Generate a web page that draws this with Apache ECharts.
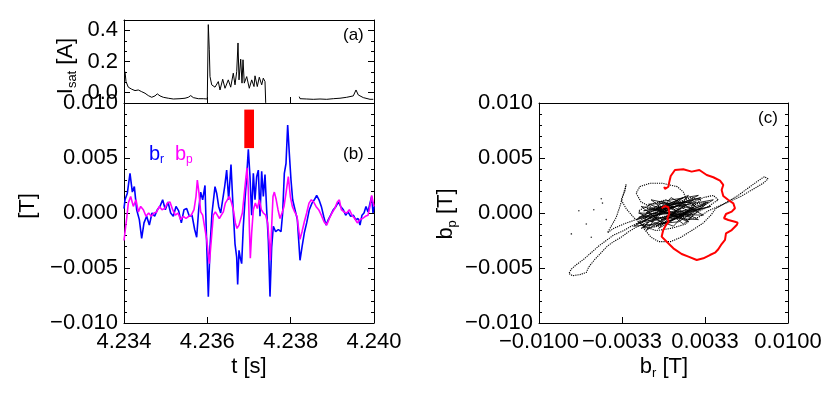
<!DOCTYPE html>
<html>
<head>
<meta charset="utf-8">
<script src="https://cdn.jsdelivr.net/npm/echarts@6/dist/echarts.min.js"></script>
<style>
  html, body { margin: 0; padding: 0; background: #fff; }
  #chart { width: 830px; height: 415px; }
</style>
</head>
<body>
<div id="chart"></div>
<script>
// panel (a): ion saturation current, gap where the probe was off
const isatT = [4.234024, 4.234048, 4.234103, 4.234185, 4.234264, 4.234343, 4.234425, 4.234504, 4.234583, 4.234665,
  4.234744, 4.234799, 4.234864, 4.234943, 4.235063, 4.235183, 4.235344, 4.235464, 4.235543, 4.235601,
  4.235663, 4.235783, 4.235903, 4.235999, 4.236023, 4.236047, 4.236064, 4.236105, 4.236184, 4.236263,
  4.236304, 4.236369, 4.236424, 4.236503, 4.236561, 4.236623, 4.236664, 4.236705, 4.236736, 4.23676,
  4.236801, 4.236832, 4.236856, 4.236887, 4.236945, 4.237007, 4.237065, 4.23712, 4.237144, 4.237199,
  4.237247, 4.237305, 4.237343, 4.237384, 4.237401, 4.2378,
  4.238207, 4.238224, 4.238385, 4.238543, 4.238704, 4.238865, 4.239023, 4.239184, 4.239345, 4.239503,
  4.239568, 4.239623, 4.239743, 4.239904, 4.239983];
const isatV = [0.135, 0.071, 0.035, 0.022, 0.013, 0.017, 0.006, -0.004, -0.019, -0.030,
  -0.021, -0.008, -0.021, -0.030, -0.036, -0.041, -0.039, -0.036, -0.030, -0.019,
  -0.032, -0.039, -0.039, -0.041, 0.437, 0.275, 0.103, 0.050, 0.035, 0.071,
  0.017, 0.086, 0.028, 0.082, 0.035, 0.125, 0.050, 0.135, 0.319, 0.082,
  0.215, 0.061, 0.211, 0.061, 0.103, 0.028, 0.082, 0.039, 0.108, 0.039,
  0.099, 0.050, 0.093, 0.071, -0.066, null,
  -0.026, -0.039, -0.041, -0.043, -0.041, -0.043, -0.039, -0.036, -0.030, -0.021,
  0.017, -0.015, -0.032, -0.043, -0.043];

// panel (b): b_r and b_p
const brT = [4.234, 4.234024, 4.23408, 4.234144, 4.2342, 4.234248, 4.234304, 4.234368, 4.234424, 4.23448,
  4.234544, 4.234608, 4.234672, 4.234736, 4.2348, 4.234864, 4.234928, 4.234992, 4.235056, 4.23512,
  4.235184, 4.235248, 4.235312, 4.235376, 4.23544, 4.235504, 4.235568, 4.235632, 4.235696, 4.235744,
  4.235792, 4.23584, 4.235888, 4.235944, 4.235984, 4.236024, 4.236064, 4.236112, 4.236184, 4.236224,
  4.236272, 4.23632, 4.236368, 4.236416, 4.236464, 4.236512, 4.236568, 4.236616, 4.236664, 4.236704,
  4.236728, 4.23676, 4.236792, 4.236824, 4.236864, 4.236904, 4.236944, 4.236984, 4.237024, 4.237064,
  4.237104, 4.237144, 4.237184, 4.237224, 4.237264, 4.237304, 4.237344, 4.237384, 4.237424, 4.237464,
  4.237504, 4.237544, 4.237584, 4.23764, 4.237704, 4.237768, 4.237808, 4.237848, 4.237888, 4.237928,
  4.237968, 4.238008, 4.238048, 4.238104, 4.23816, 4.238224, 4.238272, 4.238328, 4.238384, 4.238448,
  4.238512, 4.238568, 4.238624, 4.23868, 4.238736, 4.238792, 4.238848, 4.238904, 4.23896, 4.239024,
  4.239088, 4.239144, 4.2392, 4.239264, 4.23932, 4.239376, 4.23944, 4.239504, 4.23956, 4.239616,
  4.239664, 4.239712, 4.23976, 4.239808, 4.239856, 4.239904, 4.239944, 4.239976, 4.24];
const brV = [0.0004, 0.0012, 0.0018, 0.0036, 0.0019, 0.0024, 0.0003, -0.0006, -0.0023, -0.0009,
  -0.0003, -0.0011, 0.0000, -0.0003, 0.0003, 0.0006, 0.0012, 0.0003, 0.0010, 0.0000,
  -0.0003, 0.0006, 0.0002, -0.0009, 0.0003, 0.0004, -0.0003, -0.0002, -0.0015, -0.0022,
  0.0003, 0.0019, 0.0012, 0.0025, -0.0028, -0.0076, -0.0031, 0.0000, 0.0024, 0.0018,
  0.0006, 0.0000, 0.0012, 0.0024, 0.0039, 0.0012, 0.0044, 0.0006, -0.0028, -0.0040,
  -0.0065, -0.0034, -0.0041, -0.0046, -0.0012, 0.0012, 0.0033, 0.0058, 0.0033, -0.0002,
  0.0036, 0.0012, 0.0033, 0.0039, -0.0003, 0.0038, 0.0015, 0.0035, 0.0003, -0.0025,
  -0.0076, -0.0031, -0.0012, -0.0017, -0.0015, -0.0017, 0.0000, 0.0036, 0.0045, 0.0080,
  0.0054, 0.0030, 0.0012, 0.0003, -0.0006, -0.0043, -0.0031, -0.0018, -0.0009, 0.0003,
  0.0009, 0.0012, 0.0016, 0.0012, 0.0006, -0.0003, -0.0011, -0.0006, -0.0002, 0.0003,
  0.0006, 0.0010, 0.0006, 0.0003, -0.0002, 0.0001, -0.0003, -0.0002, -0.0006, -0.0005,
  -0.0011, -0.0002, 0.0000, 0.0006, 0.0001, 0.0009, 0.0015, 0.0000, 0.0006];

const bpT = [4.234, 4.234064, 4.234104, 4.23416, 4.234224, 4.234288, 4.234344, 4.2344, 4.234464, 4.234528,
  4.234592, 4.234656, 4.23472, 4.234784, 4.234848, 4.234912, 4.234976, 4.23504, 4.235104, 4.235168,
  4.235232, 4.235296, 4.23536, 4.235424, 4.235488, 4.235552, 4.235616, 4.23568, 4.235728, 4.23576,
  4.2358, 4.23584, 4.235888, 4.235936, 4.235984, 4.236048, 4.236096, 4.236144, 4.236192, 4.23624,
  4.236288, 4.236336, 4.236384, 4.236432, 4.23648, 4.236528, 4.236576, 4.236624, 4.236672, 4.236712,
  4.23676, 4.2368, 4.23684, 4.23688, 4.23692, 4.236952, 4.236984, 4.237008, 4.237032, 4.237064,
  4.237104, 4.237152, 4.2372, 4.237248, 4.237296, 4.237344, 4.2374, 4.237448, 4.237488, 4.237512,
  4.237544, 4.237576, 4.237608, 4.237648, 4.237696, 4.237744, 4.237792, 4.23784, 4.237888, 4.237944,
  4.237992, 4.23804, 4.238096, 4.238152, 4.238192, 4.238224, 4.238272, 4.238328, 4.238384, 4.23844,
  4.238496, 4.238552, 4.238608, 4.238672, 4.238736, 4.2388, 4.238864, 4.238928, 4.238992, 4.239056,
  4.23912, 4.239168, 4.239216, 4.23928, 4.239344, 4.239408, 4.239472, 4.239536, 4.2396, 4.239664,
  4.239728, 4.239792, 4.239856, 4.239904, 4.239944, 4.24];
const bpV = [-0.0025, -0.0005, 0.0009, 0.0015, 0.0006, 0.0012, 0.0001, 0.0006, 0.0003, -0.0003,
  0.0000, -0.0003, 0.0000, 0.0001, 0.0006, 0.0003, 0.0004, 0.0009, 0.0010, 0.0003,
  -0.0002, 0.0000, -0.0006, -0.0003, -0.0005, -0.0003, -0.0002, 0.0003, 0.0015, 0.0030,
  0.0018, 0.0001, -0.0002, -0.0003, -0.0024, -0.0046, -0.0024, -0.0002, 0.0001, -0.0002,
  -0.0005, -0.0002, 0.0001, 0.0009, 0.0012, 0.0015, 0.0010, 0.0003, -0.0009, -0.0014,
  -0.0011, -0.0012, 0.0000, 0.0015, 0.0030, 0.0041, 0.0021, -0.0012, -0.0041, -0.0018,
  0.0003, 0.0009, 0.0004, 0.0012, 0.0003, 0.0000, -0.0002, -0.0009, -0.0028, -0.0043,
  -0.0012, 0.0015, 0.0019, 0.0013, 0.0003, -0.0005, 0.0000, 0.0006, 0.0018, 0.0033,
  0.0015, 0.0006, 0.0001, -0.0003, -0.0015, -0.0024, -0.0017, -0.0008, 0.0000, 0.0009,
  0.0012, 0.0010, 0.0006, 0.0003, -0.0002, -0.0008, -0.0011, -0.0005, 0.0000, 0.0004,
  0.0010, 0.0012, 0.0003, 0.0001, 0.0000, 0.0003, -0.0002, -0.0005, -0.0009, -0.0006,
  -0.0005, -0.0003, -0.0002, 0.0006, 0.0016, 0.0006];

// red bar marks the time window of the red hodogram: [t0, t1, b0, b1]
const redBar = [4.236887, 4.23712, 0.0059, 0.0094];

// panel (c): hodogram b_r vs b_p
const hodoBlack = [
  [-0.0010,-0.0004],[-0.0018,-0.0008],[-0.0026,-0.0012],[-0.0032,-0.0016],[-0.0040,-0.0020],[-0.0046,-0.0025],
  [-0.0052,-0.0030],[-0.0058,-0.0036],[-0.0064,-0.0042],[-0.0070,-0.0047],[-0.0074,-0.0051],[-0.0076,-0.0055],
  [-0.0073,-0.0057],[-0.0067,-0.0056],[-0.0062,-0.0054],[-0.0060,-0.0049],[-0.0055,-0.0042],[-0.0050,-0.0036],
  [-0.0045,-0.0030],[-0.0040,-0.0026],[-0.0034,-0.0022],[-0.0028,-0.0017],[-0.0022,-0.0013],[-0.0016,-0.0010],
  [-0.0008,-0.0006],[0.0004,-0.0002],[0.0014,0.0004],[0.0026,0.0008],[0.0034,0.0010],[0.0028,0.0004],
  [0.0016,-0.0002],[0.0004,-0.0008],[-0.0008,-0.0012],[-0.0018,-0.0010],[-0.0012,-0.0002],[0.0000,0.0004],
  [0.0012,0.0010],[0.0022,0.0014],[0.0030,0.0012],[0.0020,0.0002],[0.0008,-0.0006],[-0.0004,-0.0010],
  [-0.0014,-0.0006],[-0.0020,0.0002],[-0.0010,0.0008],[0.0002,0.0012],[0.0014,0.0006],[0.0024,-0.0002],
  [0.0018,-0.0010],[0.0006,-0.0014],[-0.0006,-0.0016],[-0.0016,-0.0012],[-0.0024,-0.0004],
  [-0.0030,0.0004],[-0.0034,0.0012],[-0.0031,0.0020],[-0.0030,0.0026],[-0.0032,0.0018],[-0.0035,0.0006],
  [-0.0038,-0.0004],[-0.0042,-0.0012],[-0.0045,-0.0018],[-0.0040,-0.0014],[-0.0032,-0.0010],[-0.0022,-0.0006],
  [-0.0012,0.0000],[0.0000,0.0006],[0.0010,0.0002],[0.0020,0.0008],[0.0032,0.0014],[0.0040,0.0016],
  [0.0044,0.0012],[0.0036,0.0006],[0.0026,0.0000],[0.0014,-0.0004],[0.0002,0.0000],[-0.0008,0.0004],
  [-0.0018,0.0010],[-0.0022,0.0018],
  [-0.0019,0.0024],[-0.0011,0.0027],[-0.0001,0.0027],[0.0011,0.0024],[0.0016,0.0019],[0.0018,0.0013],
  [0.0010,0.0006],[0.0000,0.0002],[-0.0010,-0.0004],
  [-0.0016,-0.0014],[-0.0010,-0.0022],[-0.0004,-0.0026],[0.0006,-0.0026],[0.0014,-0.0022],[0.0024,-0.0015],
  [0.0032,-0.0009],[0.0038,-0.0002],[0.0042,0.0004],
  [0.0048,0.0008],[0.0054,0.0012],[0.0060,0.0016],[0.0066,0.0021],[0.0072,0.0026],[0.0077,0.0030],
  [0.0081,0.0033],[0.0084,0.0031],[0.0080,0.0027],[0.0074,0.0023],[0.0068,0.0019],[0.0062,0.0015],
  [0.0056,0.0012],[0.0050,0.0009],[0.0044,0.0006],
  [0.0036,0.0002],[0.0028,-0.0004],[0.0018,-0.0006],[0.0008,-0.0002],[-0.0002,0.0002],[-0.0012,-0.0002],
  [-0.0020,-0.0008],[-0.0014,-0.0014],[-0.0004,-0.0012],[0.0006,-0.0006],[0.0016,0.0000],[0.0026,0.0006],
  [0.0020,0.0010],[0.0008,0.0008],[-0.0004,0.0006],[-0.0014,0.0004]
];
// dense tangle around the origin
const hodoCore = [
  [-0.0022,-0.0010],[0.0010,0.0006],[-0.0016,0.0002],[0.0024,0.0012],[-0.0006,-0.0012],[0.0030,0.0004],
  [-0.0020,-0.0004],[0.0016,0.0014],[-0.0010,-0.0008],[0.0036,0.0010],[0.0000,-0.0010],[-0.0018,0.0006],
  [0.0022,-0.0004],[-0.0004,0.0010],[0.0028,0.0016],[-0.0024,-0.0012],[0.0012,-0.0008],[0.0040,0.0012],
  [-0.0008,0.0002],[0.0018,0.0008],[-0.0014,-0.0016],[0.0006,0.0014],[0.0032,-0.0002],[-0.0020,0.0000],
  [0.0008,-0.0012],[0.0026,0.0010],[-0.0012,0.0008],[0.0014,-0.0002],[-0.0002,-0.0006],[0.0038,0.0006],
  [-0.0016,-0.0008],[0.0004,0.0008],[0.0020,-0.0008],[-0.0006,0.0004],[0.0030,0.0014],[-0.0022,-0.0006],
  [0.0010,0.0002],[-0.0004,-0.0014],[0.0024,0.0004],[-0.0010,0.0012],[0.0016,-0.0010],[0.0034,0.0008],
  [-0.0018,-0.0014],[0.0002,0.0004],[0.0012,0.0012],[-0.0008,-0.0004],[0.0028,-0.0006],[0.0000,0.0010],
  [-0.0014,0.0000],[0.0020,0.0016],[0.0006,-0.0004]
];
const hodoStray = [[-0.0068,0.0002],[-0.0050,0.0013],[-0.0049,0.0009],[-0.0074,-0.0019],[-0.0062,-0.0010],
  [-0.0056,0.0003],[-0.0046,-0.0006],[-0.0058,-0.0022]];
const hodoRed = [
  [-0.00015,0.00043],[0.00012,0.00064],[0.00039,0.00052],[0.00047,-0.00003],[0.00031,-0.00048],[0.00042,-0.00079],
  [0.00020,-0.00109],[-0.00002,-0.00155],[-0.00015,-0.00215],[0.00026,-0.00261],[0.00079,-0.00321],[0.00146,-0.00373],
  [0.00200,-0.00397],[0.00267,-0.00427],[0.00320,-0.00412],[0.00373,-0.00382],[0.00414,-0.00361],[0.00440,-0.00330],
  [0.00467,-0.00282],[0.00494,-0.00245],[0.00502,-0.00185],[0.00548,-0.00155],[0.00588,-0.00109],[0.00596,-0.00088],
  [0.00574,-0.00079],[0.00521,-0.00064],[0.00486,-0.00048],[0.00502,-0.00009],[0.00548,0.00012],[0.00574,0.00043],
  [0.00561,0.00088],[0.00521,0.00118],[0.00480,0.00155],[0.00467,0.00209],[0.00480,0.00255],[0.00454,0.00294],
  [0.00400,0.00325],[0.00347,0.00345],[0.00288,0.00391],[0.00226,0.00376],[0.00159,0.00397],[0.00092,0.00391],
  [0.00058,0.00336],[0.00047,0.00285],[0.00039,0.00239],[0.00012,0.00218],[0.00006,0.00239]
];

const tTicks = [4.234, 4.236, 4.238, 4.240];
const isatTicks = [0, 0.2, 0.4];
const isatMinor = [0.2 / 3, 0.4 / 3, 0.8 / 3, 1.0 / 3];
const brTicks = [-0.01, -0.01 / 3, 0.01 / 3, 0.01];

const FONT = 'Liberation Sans';
const fmtSigned = (v, d) => (v < -1e-12 ? '\u2212' : '') + Math.abs(v).toFixed(d);

const zip = (xs, ys) => xs.map((x, i) => [x, ys[i]]);

const frameAxis = (grid, extra) => Object.assign({
  gridIndex: grid,
  type: 'value',
  axisLine: { show: true, onZero: false, lineStyle: { color: '#000', width: 1 } },
  axisTick: { show: true, inside: true, length: 6, lineStyle: { color: '#000' } },
  axisLabel: { show: false },
  splitLine: { show: false }
}, extra);

const noLine = { show: false, onZero: false };

const label = (fmt) => ({ show: true, color: '#000', fontFamily: FONT, fontSize: 22, margin: 6, formatter: fmt });

const chart = echarts.init(document.getElementById('chart'), null, { renderer: 'canvas' });

const option = {
  animation: false,
  backgroundColor: '#fff',
  grid: [
    { left: 124, top: 20, width: 250, height: 83, outerBoundsMode: 'none' },
    { left: 124, top: 103, width: 250, height: 220, outerBoundsMode: 'none' },
    { left: 539, top: 103, width: 249, height: 220, outerBoundsMode: 'none' }
  ],
  xAxis: [
    frameAxis(0, { min: 4.234, max: 4.240, position: 'bottom',
      axisTick: { show: true, inside: true, length: 6, customValues: [4.236, 4.238], lineStyle: { color: '#000' } } }),
    frameAxis(1, { min: 4.234, max: 4.240, position: 'bottom',
      axisTick: { show: true, inside: true, length: 6, customValues: [4.236, 4.238], lineStyle: { color: '#000' } },
      axisLabel: Object.assign(label(v => v.toFixed(3)), { customValues: tTicks, margin: 8 }) }),
    frameAxis(2, { min: -0.01, max: 0.01, position: 'bottom',
      axisTick: { show: true, inside: true, length: 6, customValues: [-0.01 / 3, 0.01 / 3], lineStyle: { color: '#000' } },
      axisLabel: Object.assign(label(v => fmtSigned(v, 4)), { customValues: brTicks, margin: 8 }) }),
    frameAxis(0, { min: 4.234, max: 4.240, position: 'top', axisTick: { show: false } }),
    frameAxis(2, { min: -0.01, max: 0.01, position: 'top', axisTick: { show: false } })
  ],
  yAxis: [
    // 0: panel a left
    frameAxis(0, { min: -0.2 / 3, max: 1.4 / 3, position: 'left',
      axisTick: { show: true, inside: true, length: 6, customValues: isatTicks, lineStyle: { color: '#000' } },
      axisLabel: Object.assign(label(v => v.toFixed(1)), { customValues: isatTicks }) }),
    // 1: panel b left
    frameAxis(1, { min: -0.01, max: 0.01, interval: 0.005, position: 'left',
      minorTick: { show: true, splitNumber: 5, length: 3, lineStyle: { color: '#000' } },
      axisLabel: label(v => fmtSigned(v, 3)) }),
    // 2: panel c left
    frameAxis(2, { min: -0.01, max: 0.01, interval: 0.005, position: 'left',
      minorTick: { show: true, splitNumber: 5, length: 3, lineStyle: { color: '#000' } },
      axisLabel: label(v => fmtSigned(v, 3)) }),
    // right-hand tick copies and minor ticks of panel a
    frameAxis(0, { min: -0.2 / 3, max: 1.4 / 3, position: 'right',
      axisTick: { show: true, inside: true, length: 6, customValues: isatTicks, lineStyle: { color: '#000' } } }),
    frameAxis(0, { min: -0.2 / 3, max: 1.4 / 3, position: 'left', axisLine: noLine,
      axisTick: { show: true, inside: true, length: 3, customValues: isatMinor, lineStyle: { color: '#000' } } }),
    frameAxis(0, { min: -0.2 / 3, max: 1.4 / 3, position: 'right', axisLine: noLine,
      axisTick: { show: true, inside: true, length: 3, customValues: isatMinor, lineStyle: { color: '#000' } } }),
    frameAxis(1, { min: -0.01, max: 0.01, interval: 0.005, position: 'right',
      minorTick: { show: true, splitNumber: 5, length: 3, lineStyle: { color: '#000' } } }),
    frameAxis(2, { min: -0.01, max: 0.01, interval: 0.005, position: 'right',
      minorTick: { show: true, splitNumber: 5, length: 3, lineStyle: { color: '#000' } } })
  ],
  series: [
    {
      name: 'Isat', type: 'line', xAxisIndex: 0, yAxisIndex: 0,
      data: zip(isatT, isatV), symbol: 'none', connectNulls: false,
      lineStyle: { color: '#000', width: 1 }
    },
    {
      name: 'br', type: 'line', xAxisIndex: 1, yAxisIndex: 1,
      data: zip(brT, brV), symbol: 'none',
      lineStyle: { color: '#0000ff', width: 1.6 }
    },
    {
      name: 'bp', type: 'line', xAxisIndex: 1, yAxisIndex: 1,
      data: zip(bpT, bpV), symbol: 'none',
      lineStyle: { color: '#ff00ff', width: 1.6 },
      markArea: {
        silent: true,
        itemStyle: { color: '#ff0000', opacity: 1 },
        data: [[{ coord: [redBar[0], redBar[2]] }, { coord: [redBar[1], redBar[3]] }]]
      }
    },
    {
      name: 'hodo', type: 'line', xAxisIndex: 2, yAxisIndex: 2,
      data: hodoBlack, symbol: 'none',
      lineStyle: { color: '#000', width: 1.1, type: [1.2, 1] }
    },
    {
      name: 'hodoCore', type: 'line', xAxisIndex: 2, yAxisIndex: 2,
      data: hodoCore, symbol: 'none',
      lineStyle: { color: '#000', width: 0.8 }
    },
    {
      name: 'stray', type: 'scatter', xAxisIndex: 2, yAxisIndex: 2,
      data: hodoStray, symbol: 'circle', symbolSize: 1.6,
      itemStyle: { color: '#000' }
    },
    {
      name: 'hodoRed', type: 'line', xAxisIndex: 2, yAxisIndex: 2,
      data: hodoRed, symbol: 'none',
      lineStyle: { color: '#ff0000', width: 2 }
    }
  ],
  graphic: [
    { type: 'text', left: 343, top: 27, style: { text: '(a)', font: '17px "Liberation Sans"', fill: '#000' } },
    { type: 'text', left: 343, top: 146, style: { text: '(b)', font: '17px "Liberation Sans"', fill: '#000' } },
    { type: 'text', left: 758, top: 110, style: { text: '(c)', font: '17px "Liberation Sans"', fill: '#000' } },
    {
      type: 'text', x: 149, y: 154,
      style: {
        text: '{m|b}{s|r}', verticalAlign: 'middle',
        rich: {
          m: { fontFamily: FONT, fontSize: 20, lineHeight: 24, fill: '#0000ff' },
          s: { fontFamily: FONT, fontSize: 12, lineHeight: 12, verticalAlign: 'bottom', fill: '#0000ff' }
        }
      }
    },
    {
      type: 'text', x: 175, y: 154,
      style: {
        text: '{m|b}{s|p}', verticalAlign: 'middle',
        rich: {
          m: { fontFamily: FONT, fontSize: 20, lineHeight: 24, fill: '#ff00ff' },
          s: { fontFamily: FONT, fontSize: 12, lineHeight: 12, verticalAlign: 'bottom', fill: '#ff00ff' }
        }
      }
    },
    { type: 'text', x: 249, y: 367, style: { text: 't [s]', font: '22px "Liberation Sans"', fill: '#000', align: 'center', verticalAlign: 'middle' } },
    {
      type: 'text', x: 664, y: 367,
      style: {
        text: '{m|b}{s|r}{m| [T]}', align: 'center', verticalAlign: 'middle',
        rich: {
          m: { fontFamily: FONT, fontSize: 22, lineHeight: 26, fill: '#000' },
          s: { fontFamily: FONT, fontSize: 13, lineHeight: 13, verticalAlign: 'bottom', fill: '#000' }
        }
      }
    },
    {
      type: 'text', x: 28, y: 206, rotation: Math.PI / 2,
      style: { text: '[T]', font: '22px "Liberation Sans"', fill: '#000', align: 'center', verticalAlign: 'middle' }
    },
    {
      type: 'text', x: 66, y: 66, rotation: Math.PI / 2,
      style: {
        text: '{m|I}{s|sat}{m| [A]}', align: 'center', verticalAlign: 'middle',
        rich: {
          m: { fontFamily: FONT, fontSize: 22, lineHeight: 26, fill: '#000' },
          s: { fontFamily: FONT, fontSize: 13, lineHeight: 13, verticalAlign: 'bottom', fill: '#000' }
        }
      }
    },
    {
      type: 'text', x: 446, y: 214, rotation: Math.PI / 2,
      style: {
        text: '{m|b}{s|p}{m| [T]}', align: 'center', verticalAlign: 'middle',
        rich: {
          m: { fontFamily: FONT, fontSize: 22, lineHeight: 26, fill: '#000' },
          s: { fontFamily: FONT, fontSize: 13, lineHeight: 13, verticalAlign: 'bottom', fill: '#000' }
        }
      }
    }
  ]
};

chart.setOption(option);
</script>
</body>
</html>
